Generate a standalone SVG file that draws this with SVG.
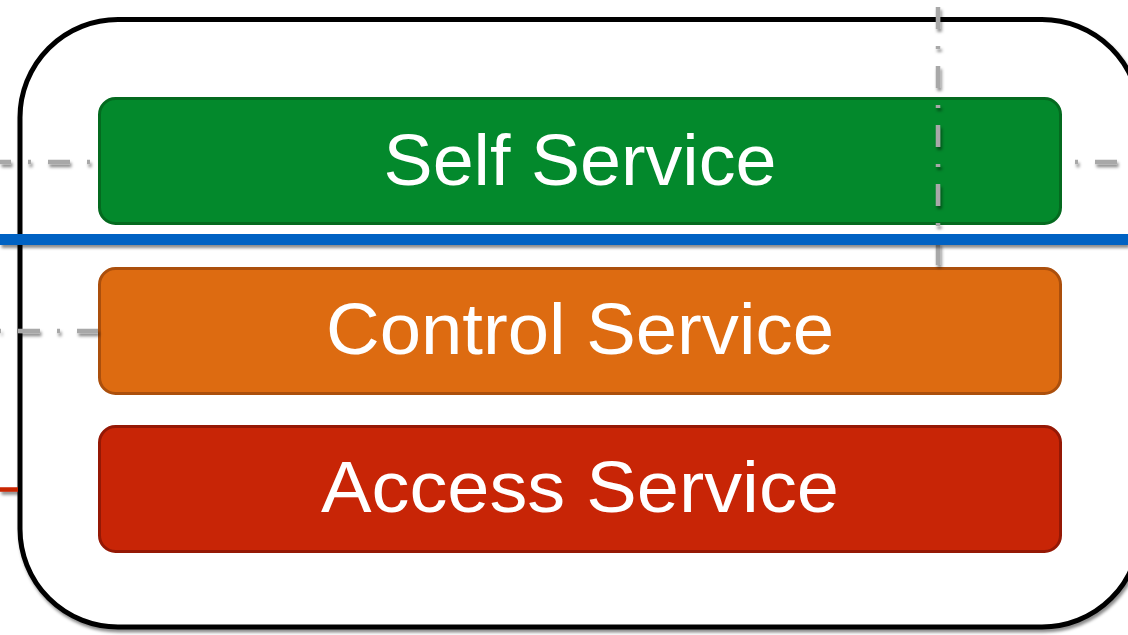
<svg xmlns="http://www.w3.org/2000/svg" width="1128" height="635" viewBox="0 0 1128 635">
  <defs>
    <filter id="sh" filterUnits="userSpaceOnUse" x="-20" y="-20" width="1180" height="680">
      <feDropShadow dx="1.5" dy="3" stdDeviation="1.8" flood-color="#000" flood-opacity="0.45"/>
    </filter>
    <style>
      .dd { fill: none; stroke: #a8a8a8; stroke-width: 4.5; stroke-dasharray: 22 17 3 17; }
      .box { stroke-width: 3; }
      .lbl { font-family: "Liberation Sans", Arial, Helvetica, sans-serif; font-size: 73px; fill: #ffffff; text-anchor: middle; }
    </style>
  </defs>
  <rect width="1128" height="635" fill="#ffffff"/>

  <g id="container">
    <rect x="20" y="19.5" width="1120" height="607.5" rx="98" ry="98" fill="#ffffff" stroke="#000000" stroke-width="5" filter="url(#sh)"/>
  </g>

  <g id="self-service">
    <rect class="box" x="99.5" y="98.5" width="961" height="125" rx="16" ry="16" fill="#03892c" stroke="#046a1f"/>
    <text class="lbl" x="580" y="185" textLength="393" lengthAdjust="spacingAndGlyphs">Self Service</text>
  </g>

  <g id="control-service">
    <rect class="box" x="99.5" y="268.5" width="961" height="125" rx="16" ry="16" fill="#dd6b11" stroke="#ab4f0c"/>
    <text class="lbl" x="580" y="354" textLength="508" lengthAdjust="spacingAndGlyphs">Control Service</text>
  </g>

  <g id="access-service">
    <rect class="box" x="99.5" y="426.5" width="961" height="125" rx="16" ry="16" fill="#c82506" stroke="#951805"/>
    <text class="lbl" x="580" y="512" textLength="518" lengthAdjust="spacingAndGlyphs">Access Service</text>
  </g>

  <g id="connectors">
    <path class="dd" d="M938 0 V266" stroke-dashoffset="52" filter="url(#sh)"/>
    <path class="dd" d="M0 162 H98" stroke-dashoffset="11" filter="url(#sh)"/>
    <path class="dd" d="M1062 162 H1128" stroke-dashoffset="26" filter="url(#sh)"/>
    <path class="dd" d="M0 331 H98" stroke-dashoffset="41" filter="url(#sh)"/>
    <path d="M0 239.5 H1128" fill="none" stroke="#0062c3" stroke-width="11" filter="url(#sh)"/>
    <path d="M0 489.5 H18" fill="none" stroke="#c82506" stroke-width="4.5" filter="url(#sh)"/>
  </g>
</svg>
